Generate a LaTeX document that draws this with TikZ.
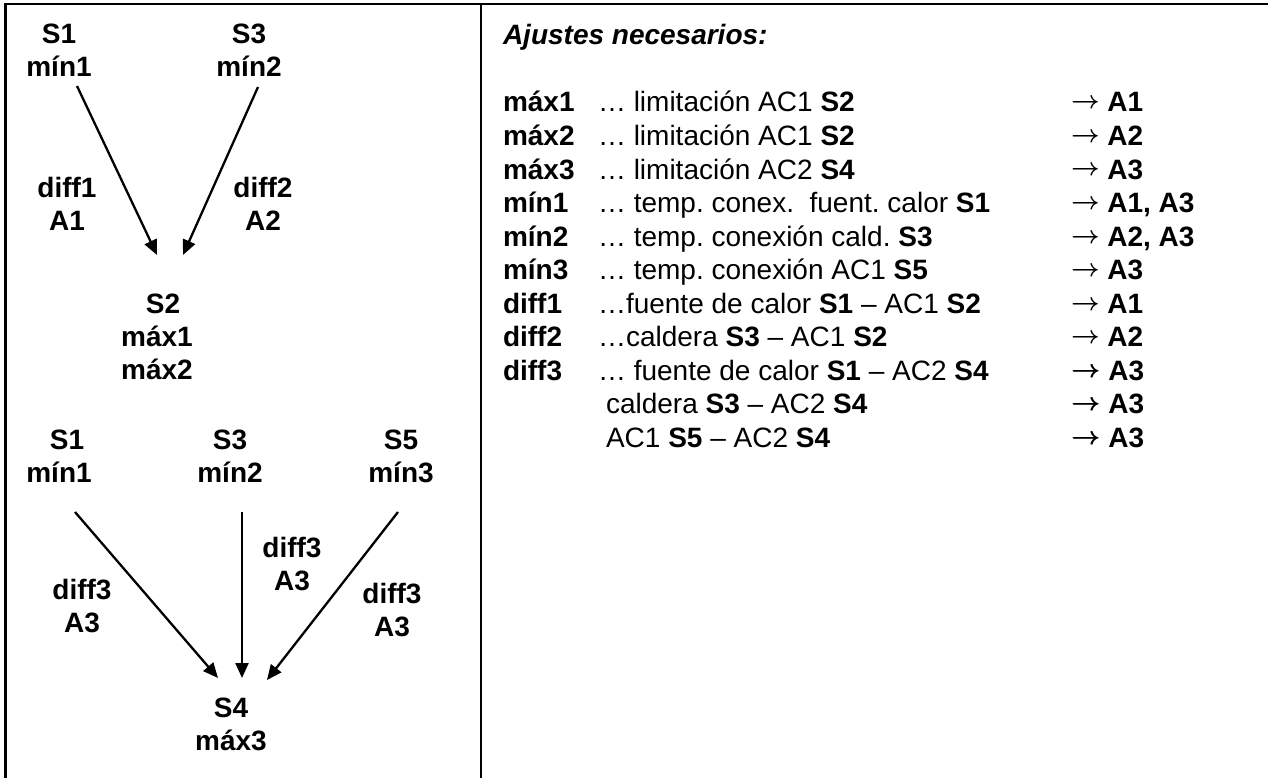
\documentclass[tikz,border=0pt]{standalone}
\usepackage{fontspec}
\setmainfont{Liberation Sans}
\usetikzlibrary{arrows.meta}
\frenchspacing
\newcommand{\rarr}{\raisebox{3pt}{\fontsize{27}{27}\selectfont\boldmath$\rightarrow$}}
\newcommand{\rarrb}{\raisebox{3pt}{\fontsize{27}{27}\selectfont\boldmath\rlap{$\rightarrow$}\hspace*{0.9pt}$\rightarrow$}}
\begin{document}
\begin{tikzpicture}[x=1pt,y=-1pt,
  every node/.style={inner sep=0pt, outer sep=0pt, font=\fontsize{28}{33}\selectfont},
  lbl/.style={align=center, anchor=base, font=\fontsize{28}{33}\selectfont\bfseries},
  row/.style={anchor=base west},
  conn/.style={line width=2.3pt, -{Triangle[length=15pt,width=13pt]}},
  frame/.style={line width=2.2pt, line cap=rect}]
\useasboundingbox (0,0) rectangle (1268,778);
% frame
\draw[frame] (5.5,778) -- (5.5,4) -- (1268,4);
\draw[frame] (481,4) -- (481,778);

% upper graph (anchor = baseline of the last line)
\node[lbl] (s1a) at (59,77) {S1\\mín1};
\node[lbl] (s3a) at (249,77) {S3\\mín2};
\node[lbl] (d1) at (67,230) {diff1\\A1};
\node[lbl] (d2) at (263,230) {diff2\\A2};
\node[lbl] (s2) at (157,379) {\hspace*{12pt}S2\\máx1\\máx2};
\coordinate (a1s) at (77,86);  \coordinate (a1e) at (157,255);
\coordinate (a2s) at (258,87); \coordinate (a2e) at (183,255);
\draw[conn] (a1s) -- (a1e);
\draw[conn] (a2s) -- (a2e);

% lower graph
\node[lbl] (s1b) at (59,482) {\hspace*{16pt}S1\\mín1};
\node[lbl] (s3b) at (230,482) {S3\\mín2};
\node[lbl] (s5b) at (401,482) {S5\\mín3};
\node[lbl] (d3l) at (82,632) {diff3\\A3};
\node[lbl] (d3m) at (292,590) {diff3\\A3};
\node[lbl] (d3r) at (392,636) {diff3\\A3};
\node[lbl] (s4) at (231,750) {S4\\máx3};
\coordinate (b1s) at (75,512);  \coordinate (b1e) at (218,678);
\coordinate (b2s) at (242,512); \coordinate (b2e) at (242,678);
\coordinate (b3s) at (398,512); \coordinate (b3e) at (267,680);
\draw[conn] (b1s) -- (b1e);
\draw[conn] (b2s) -- (b2e);
\draw[conn] (b3s) -- (b3e);

% right panel
\node[row] (head) at (503,45) {\bfseries\itshape Ajustes necesarios:};

\node[row] (l1) at (503,112) {\bfseries máx1};
\node[row] (t1) at (598,112) {… limitación AC1 \textbf{S2}};
\node[row] (r1) at (1071,112) {\rarr{} \textbf{A1}};

\node[row] (l2) at (503,145.5) {\bfseries máx2};
\node[row] (t2) at (598,145.5) {… limitación AC1 \textbf{S2}};
\node[row] (r2) at (1071,145.5) {\rarr{} \textbf{A2}};

\node[row] (l3) at (503,179) {\bfseries máx3};
\node[row] (t3) at (598,179) {… limitación AC2 \textbf{S4}};
\node[row] (r3) at (1071,179) {\rarr{} \textbf{A3}};

\node[row] (l4) at (503,212.5) {\bfseries mín1};
\node[row] (t4) at (598,212.5) {… temp. conex.\ \ fuent. calor \textbf{S1}};
\node[row] (r4) at (1071,212.5) {\rarr{} \textbf{A1, A3}};

\node[row] (l5) at (503,246) {\bfseries mín2};
\node[row] (t5) at (598,246) {… temp. conexión cald. \textbf{S3}};
\node[row] (r5) at (1071,246) {\rarr{} \textbf{A2, A3}};

\node[row] (l6) at (503,279.5) {\bfseries mín3};
\node[row] (t6) at (598,279.5) {… temp. conexión AC1 \textbf{S5}};
\node[row] (r6) at (1071,279.5) {\rarr{} \textbf{A3}};

\node[row] (l7) at (503,313) {\bfseries diff1};
\node[row] (t7) at (598,313) {…fuente de calor \textbf{S1} – AC1 \textbf{S2}};
\node[row] (r7) at (1071,313) {\rarr{} \textbf{A1}};

\node[row] (l8) at (503,346.5) {\bfseries diff2};
\node[row] (t8) at (598,346.5) {…caldera \textbf{S3} – AC1 \textbf{S2}};
\node[row] (r8) at (1071,346.5) {\rarr{} \textbf{A2}};

\node[row] (l9) at (503,380) {\bfseries diff3};
\node[row] (t9) at (598,380) {… fuente de calor \textbf{S1} – AC2 \textbf{S4}};
\node[row] (r9) at (1071,380) {\rarrb{} \textbf{A3}};

\node[row] (t10) at (606,413.5) {caldera \textbf{S3} – AC2 \textbf{S4}};
\node[row] (r10) at (1071,413.5) {\rarrb{} \textbf{A3}};

\node[row] (t11) at (606,447) {AC1 \textbf{S5} – AC2 \textbf{S4}};
\node[row] (r11) at (1071,447) {\rarrb{} \textbf{A3}};
\end{tikzpicture}
\end{document}
